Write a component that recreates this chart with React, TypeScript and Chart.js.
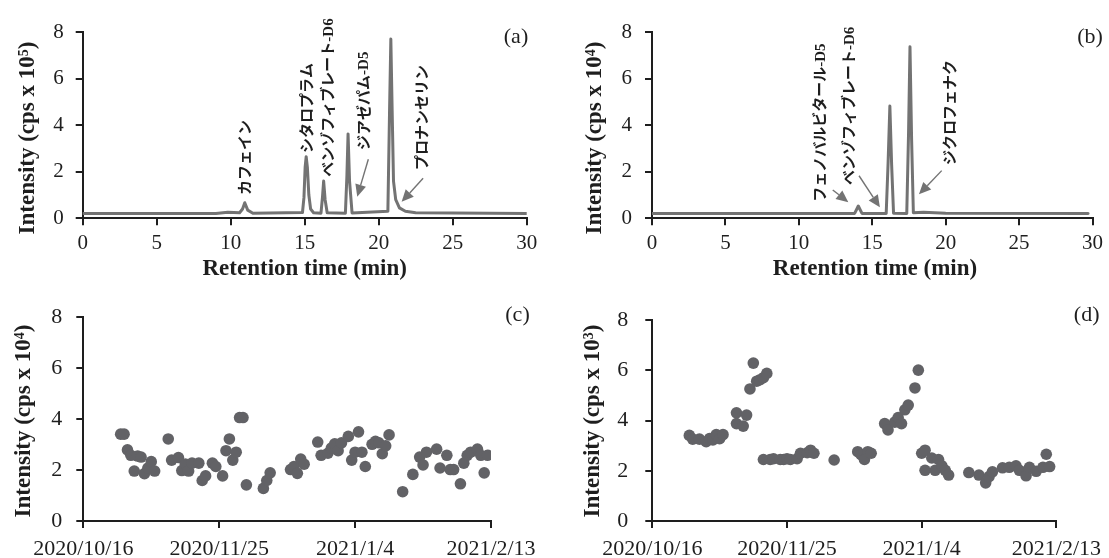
import React, { useEffect, useRef } from 'react';
import { Chart, registerables } from 'chart.js';

Chart.register(...registerables);

// ---------------- Panel (a): chromatogram, intensity ×10^5 cps ----------------
const retentionTimeA = [0, 9.0, 9.8, 10.6, 10.8, 10.95, 11.15, 11.5, 14.85, 14.95, 15.03, 15.1, 15.18, 15.28, 15.4, 15.6, 16.1, 16.2, 16.28, 16.38, 16.52, 17.75, 17.85, 17.93, 18.03, 18.2, 20.62, 20.73, 20.82, 20.91, 21.0, 21.15, 21.4, 21.8, 22.5, 30];
const intensityA = [0.21, 0.21, 0.26, 0.24, 0.4, 0.67, 0.35, 0.22, 0.25, 0.9, 2.2, 2.65, 2.2, 1.0, 0.4, 0.24, 0.22, 0.9, 1.6, 0.8, 0.24, 0.22, 1.8, 3.63, 1.6, 0.23, 0.3, 4.5, 7.71, 4.6, 1.6, 0.8, 0.45, 0.3, 0.24, 0.21];
const peakNamesA = ['カフェイン', 'シタロプラム', 'ベンゾフィブレート', 'ジアゼパム', 'プロナンセリン'];
const peakSuffixA = ['', '', '-D6', '-D5', ''];

// ---------------- Panel (b): chromatogram, intensity ×10^4 cps ----------------
const retentionTimeB = [0, 13.8, 13.95, 14.05, 14.15, 14.3, 15.95, 16.08, 16.2, 16.32, 16.45, 17.35, 17.47, 17.57, 17.68, 17.8, 18.5, 20.0, 29.7];
const intensityB = [0.21, 0.21, 0.4, 0.53, 0.4, 0.21, 0.21, 2.4, 4.83, 2.3, 0.22, 0.21, 3.6, 7.38, 3.4, 0.24, 0.26, 0.22, 0.21];
const peakNamesB = ['フェノバルビタール', 'ベンゾフィブレート', 'ジクロフェナク'];
const peakSuffixB = ['-D5', '-D6', ''];

// ---------------- Panel (c): intensity ×10^4 cps over time ----------------
const sampleDatesC = [
  '2020/10/27', '2020/10/28', '2020/10/29', '2020/10/30', '2020/10/31', '2020/11/1', '2020/11/2', '2020/11/3', '2020/11/4', '2020/11/5', '2020/11/6',
  '2020/11/10', '2020/11/11', '2020/11/13', '2020/11/14', '2020/11/15', '2020/11/16', '2020/11/17', '2020/11/19', '2020/11/20', '2020/11/21', '2020/11/23', '2020/11/24',
  '2020/11/26', '2020/11/27', '2020/11/28', '2020/11/29', '2020/11/30', '2020/12/1', '2020/12/2', '2020/12/3', '2020/12/8', '2020/12/9', '2020/12/10',
  '2020/12/16', '2020/12/17', '2020/12/18', '2020/12/19', '2020/12/20', '2020/12/24', '2020/12/25', '2020/12/27', '2020/12/28', '2020/12/29', '2020/12/30', '2020/12/31',
  '2021/1/2', '2021/1/3', '2021/1/4', '2021/1/5', '2021/1/6', '2021/1/7', '2021/1/9', '2021/1/10', '2021/1/11', '2021/1/12', '2021/1/13', '2021/1/14',
  '2021/1/18', '2021/1/21', '2021/1/23', '2021/1/24', '2021/1/25', '2021/1/28', '2021/1/29', '2021/1/31', '2021/2/1', '2021/2/2', '2021/2/4', '2021/2/5',
  '2021/2/6', '2021/2/7', '2021/2/9', '2021/2/10', '2021/2/11', '2021/2/12'
];
const intensityC = [
  3.41, 3.41, 2.79, 2.58, 1.96, 2.55, 2.51, 1.86, 2.08, 2.33, 1.96,
  3.22, 2.39, 2.49, 1.98, 2.24, 1.96, 2.27, 2.27, 1.59, 1.77, 2.27, 2.14,
  1.77, 2.76, 3.22, 2.39, 2.70, 4.06, 4.06, 1.42, 1.28, 1.59, 1.89,
  2.02, 2.14, 1.87, 2.43, 2.23, 3.10, 2.58, 2.66, 2.86, 3.03, 2.76, 3.07,
  3.32, 2.39, 2.70, 3.50, 2.70, 2.14, 3.01, 3.13, 3.07, 2.64, 2.95, 3.38,
  1.15, 1.83, 2.51, 2.20, 2.70, 2.82, 2.08, 2.58, 2.02, 2.02, 1.46, 2.27,
  2.58, 2.70, 2.82, 2.58, 1.89, 2.58
];

// ---------------- Panel (d): intensity ×10^3 cps over time ----------------
const sampleDatesD = [
  '2020/10/27', '2020/10/28', '2020/10/30', '2020/11/1', '2020/11/2', '2020/11/3', '2020/11/4', '2020/11/5', '2020/11/6',
  '2020/11/10', '2020/11/10', '2020/11/12', '2020/11/13', '2020/11/14', '2020/11/15', '2020/11/16', '2020/11/17', '2020/11/18', '2020/11/18', '2020/11/19',
  '2020/11/20', '2020/11/21', '2020/11/23', '2020/11/24', '2020/11/25', '2020/11/26', '2020/11/28', '2020/11/29', '2020/12/1', '2020/12/2', '2020/12/3',
  '2020/12/9', '2020/12/16', '2020/12/17', '2020/12/18', '2020/12/19', '2020/12/20',
  '2020/12/24', '2020/12/25', '2020/12/27', '2020/12/28', '2020/12/29', '2020/12/30', '2020/12/31', '2021/1/2', '2021/1/3',
  '2021/1/4', '2021/1/5', '2021/1/5', '2021/1/7', '2021/1/8', '2021/1/9', '2021/1/10', '2021/1/11', '2021/1/12',
  '2021/1/18', '2021/1/21', '2021/1/23', '2021/1/24', '2021/1/25', '2021/1/28', '2021/1/30', '2021/2/1', '2021/2/2',
  '2021/2/4', '2021/2/5', '2021/2/7', '2021/2/9', '2021/2/10', '2021/2/11'
];
const intensityD = [
  3.41, 3.26, 3.26, 3.16, 3.28, 3.23, 3.44, 3.28, 3.44,
  4.31, 3.88, 3.78, 4.22, 5.26, 6.29, 5.57, 5.63, 5.71, 2.45, 5.88,
  2.45, 2.48, 2.45, 2.45, 2.48, 2.45, 2.48, 2.70, 2.72, 2.82, 2.70,
  2.43, 2.76, 2.64, 2.45, 2.76, 2.70,
  3.88, 3.63, 3.94, 4.12, 3.88, 4.43, 4.62, 5.30, 6.01,
  2.70, 2.82, 2.02, 2.51, 2.02, 2.45, 2.20, 2.02, 1.83,
  1.93, 1.83, 1.52, 1.77, 1.96, 2.12, 2.14, 2.20, 2.02,
  1.80, 2.14, 1.98, 2.14, 2.66, 2.17
];

// ---------------- Tick labels ----------------
const retentionTicks = [0, 5, 10, 15, 20, 25, 30];
const dateTickLabels = ['2020/10/16', '2020/11/25', '2021/1/4', '2021/2/13'];
const intensityTicks = [0, 2, 4, 6, 8];

// ---------------- helpers ----------------
const DAY_MS = 86400000;
const BASE = Date.UTC(2020, 9, 16);
function toDay(s: string): number {
  const [y, m, d] = s.split('/').map(Number);
  return (Date.UTC(y, m - 1, d) - BASE) / DAY_MS;
}
function fmtDay(v: number): string {
  const dt = new Date(BASE + Math.round(v) * DAY_MS);
  return `${dt.getUTCFullYear()}/${dt.getUTCMonth() + 1}/${dt.getUTCDate()}`;
}

const SERIF = '"Liberation Serif", "Times New Roman", serif';
const CJK = '"Noto Sans CJK JP", "Noto Sans", sans-serif';
const INK = '#1e1e1e';
const TRACE = '#737373';
const DOT = '#626266';

// ---------------- panel layout (positions/styles only) ----------------
const panels: any[] = [
  {
    id: 'a', kind: 'trace', left: 0, top: 0, w: 555, h: 290,
    xs: retentionTimeA, ys: intensityA, names: peakNamesA, suffixes: peakSuffixA,
    labelPos: [[10.92, 1.0], [15.09, 2.81], [16.55, 1.79], [18.96, 2.94], [22.9, 2.08]],
    arrows: [[19.3, 2.54, 18.55, 0.93], [23.0, 1.72, 21.55, 0.71]],
    axisLeft: 82.7, padTop: 32.3, padRight: 28.3, xAxisH: 71.7, yPad: 12, xPad: 6, tickSize: 21,
    exp: '5', yTitle: [26.2, 138], xTitle: [304.7, 274.5], tag: ['(a)', 516, 37],
  },
  {
    id: 'b', kind: 'trace', left: 555, top: 0, w: 554, h: 290,
    xs: retentionTimeB, ys: intensityB, names: peakNamesB, suffixes: peakSuffixB,
    labelPos: [[11.41, 0.71], [13.4, 1.43], [20.26, 2.29]],
    arrows: [[12.31, 1.22, 13.37, 0.69], [14.1, 1.83, 15.52, 0.47], [19.73, 2.05, 18.18, 1.03]],
    axisLeft: 97, padTop: 32.3, padRight: 11, xAxisH: 71.7, yPad: 13, xPad: 6, tickSize: 21,
    exp: '4', yTitle: [38, 138], xTitle: [320, 274.5], tag: ['(b)', 535, 37],
  },
  {
    id: 'c', kind: 'dots', left: 0, top: 290, w: 555, h: 268,
    dates: sampleDatesC, ys: intensityC,
    axisLeft: 83.3, padTop: 15.7, padRight: 64, xAxisH: 37, yPad: 14, xPad: 8, tickSize: 22,
    exp: '4', yTitle: [22, 131], tag: ['(c)', 517.5, 25],
  },
  {
    id: 'd', kind: 'dots', left: 555, top: 290, w: 554, h: 268,
    dates: sampleDatesD, ys: intensityD,
    axisLeft: 97.3, padTop: 15.7, padRight: 49, xAxisH: 37, yPad: 17, xPad: 8, tickSize: 22,
    exp: '3', yTitle: [36, 131], tag: ['(d)', 531.7, 25],
  },
];

function drawYTitle(ctx: CanvasRenderingContext2D, cx: number, cy: number, exp: string) {
  const main = 'Intensity (cps x 10';
  const tail = ')';
  const big = `bold 23px ${SERIF}`;
  const small = `bold 14px ${SERIF}`;
  ctx.save();
  ctx.translate(cx, cy);
  ctx.rotate(-Math.PI / 2);
  ctx.fillStyle = INK;
  ctx.textAlign = 'left';
  ctx.textBaseline = 'alphabetic';
  ctx.font = big;
  const w1 = ctx.measureText(main).width;
  const w3 = ctx.measureText(tail).width;
  ctx.font = small;
  const w2 = ctx.measureText(exp).width;
  let x = -(w1 + w2 + w3) / 2;
  ctx.font = big;
  ctx.fillText(main, x, 7.6);
  x += w1;
  ctx.font = small;
  ctx.fillText(exp, x, 1.5);
  x += w2;
  ctx.font = big;
  ctx.fillText(tail, x, 7.6);
  ctx.restore();
}

function overlayPlugin(p: any) {
  return {
    id: 'overlay_' + p.id,
    afterDatasetsDraw(chart: any) {
      const ctx: CanvasRenderingContext2D = chart.ctx;
      const xs = chart.scales.x;
      const ys = chart.scales.y;
      ctx.save();
      if (p.kind === 'trace') {
        // arrows
        ctx.strokeStyle = TRACE;
        ctx.fillStyle = TRACE;
        ctx.lineWidth = 1.4;
        for (const a of p.arrows) {
          const x1 = xs.getPixelForValue(a[0]);
          const y1 = ys.getPixelForValue(a[1]);
          const x2 = xs.getPixelForValue(a[2]);
          const y2 = ys.getPixelForValue(a[3]);
          const ang = Math.atan2(y2 - y1, x2 - x1);
          const hl = 12;
          const hw = 5.5;
          const bx = x2 - hl * Math.cos(ang);
          const by = y2 - hl * Math.sin(ang);
          ctx.beginPath();
          ctx.moveTo(x1, y1);
          ctx.lineTo(bx, by);
          ctx.stroke();
          ctx.beginPath();
          ctx.moveTo(x2, y2);
          ctx.lineTo(bx + hw * Math.sin(ang), by - hw * Math.cos(ang));
          ctx.lineTo(bx - hw * Math.sin(ang), by + hw * Math.cos(ang));
          ctx.closePath();
          ctx.fill();
        }
        // vertical peak labels
        ctx.fillStyle = INK;
        p.names.forEach((name: string, i: number) => {
          const [vx, vy] = p.labelPos[i];
          const px = xs.getPixelForValue(vx);
          const py = ys.getPixelForValue(vy);
          ctx.save();
          ctx.translate(px, py);
          ctx.rotate(-Math.PI / 2);
          ctx.textAlign = 'left';
          ctx.textBaseline = 'middle';
          ctx.font = `bold 15px ${CJK}`;
          ctx.fillText(name, 0, 0);
          const w = ctx.measureText(name).width;
          if (p.suffixes[i]) {
            ctx.font = `bold 15px ${SERIF}`;
            ctx.textBaseline = 'alphabetic';
            ctx.fillText(p.suffixes[i], w, 5);
          }
          ctx.restore();
        });
        // x title
        ctx.fillStyle = INK;
        ctx.font = `bold 23px ${SERIF}`;
        ctx.textAlign = 'center';
        ctx.textBaseline = 'alphabetic';
        ctx.fillText('Retention time (min)', p.xTitle[0], p.xTitle[1]);
      }
      drawYTitle(ctx, p.yTitle[0], p.yTitle[1], p.exp);
      // panel tag
      ctx.fillStyle = INK;
      ctx.font = `22px ${SERIF}`;
      ctx.textAlign = 'center';
      ctx.textBaseline = 'middle';
      ctx.fillText(p.tag[0], p.tag[1], p.tag[2]);
      ctx.restore();
    },
  };
}

function buildConfig(p: any): any {
  const isTrace = p.kind === 'trace';
  const dataset = isTrace
    ? {
        type: 'line',
        data: p.xs.map((x: number, i: number) => ({ x, y: p.ys[i] })),
        borderColor: TRACE,
        borderWidth: 3,
        pointRadius: 0,
        tension: 0,
        fill: false,
        borderJoinStyle: 'round',
        borderCapStyle: 'round',
      }
    : {
        type: 'scatter',
        data: p.dates.map((d: string, i: number) => ({ x: toDay(d), y: p.ys[i] })),
        backgroundColor: DOT,
        borderWidth: 0,
        pointRadius: 5.8,
        pointHoverRadius: 5.8,
      };
  const xTickValues = isTrace ? retentionTicks : dateTickLabels.map(toDay);
  const grid = { drawOnChartArea: false, drawTicks: true, tickLength: 7, color: INK, lineWidth: 2 };
  const border = { display: true, color: INK, width: 2 };
  return {
    type: isTrace ? 'line' : 'scatter',
    data: { datasets: [dataset] },
    options: {
      responsive: false,
      animation: false,
      events: [],
      layout: { padding: { top: p.padTop, right: p.padRight, left: 0, bottom: 0 } },
      plugins: { legend: { display: false }, tooltip: { enabled: false }, title: { display: false } },
      scales: {
        x: {
          type: 'linear',
          min: xTickValues[0],
          max: xTickValues[xTickValues.length - 1],
          afterFit: (sc: any) => { sc.height = p.xAxisH; },
          afterBuildTicks: (sc: any) => { sc.ticks = xTickValues.map((v: number) => ({ value: v })); },
          ticks: {
            autoSkip: false,
            maxRotation: 0,
            padding: p.xPad,
            color: INK,
            font: { family: SERIF, size: p.tickSize },
            callback: (v: number) => (isTrace ? String(v) : fmtDay(v)),
          },
          grid,
          border,
        },
        y: {
          type: 'linear',
          min: intensityTicks[0],
          max: intensityTicks[intensityTicks.length - 1],
          afterFit: (sc: any) => { sc.width = p.axisLeft; },
          afterBuildTicks: (sc: any) => { sc.ticks = intensityTicks.map((v) => ({ value: v })); },
          ticks: {
            padding: p.yPad,
            color: INK,
            font: { family: SERIF, size: p.tickSize },
            callback: (v: number) => String(v),
          },
          grid,
          border,
        },
      },
    },
    plugins: [overlayPlugin(p)],
  };
}

function Panel({ p }: { p: any }) {
  const ref = useRef<HTMLCanvasElement>(null);
  useEffect(() => {
    const chart = new Chart(ref.current as HTMLCanvasElement, buildConfig(p));
    return () => chart.destroy();
  }, []);
  return (
    <canvas
      ref={ref}
      width={p.w}
      height={p.h}
      style={{ position: 'absolute', left: p.left, top: p.top, width: p.w, height: p.h }}
    />
  );
}

export default function App() {
  return (
    <div style={{ position: 'absolute', left: 0, top: 0, width: 1109, height: 558, background: '#fff', overflow: 'hidden' }}>
      {panels.map((p) => (
        <Panel key={p.id} p={p} />
      ))}
    </div>
  );
}
